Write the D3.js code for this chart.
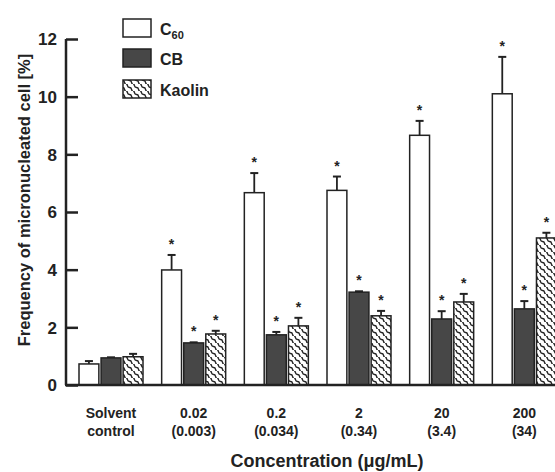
<!DOCTYPE html>
<html>
<head>
<meta charset="utf-8">
<script src="https://cdn.jsdelivr.net/npm/d3@7"></script>
<style>
  body { margin: 0; background: #fff; }
  svg text { font-family: "Liberation Sans", Arial, sans-serif; font-weight: bold; fill: #222; }
</style>
</head>
<body>
<div id="chart"></div>
<script>
// data
var groups = ['g1', 'g2', 'g3', 'g4', 'g5', 'g6'];
var groupLine1 = ['Solvent', '0.02', '0.2', '2', '20', '200'];
var groupLine2 = ['control', '(0.003)', '(0.034)', '(0.34)', '(3.4)', '(34)'];
var seriesNames = ['C60', 'CB', 'Kaolin'];
var c60Values = [0.73, 3.99, 6.67, 6.75, 8.66, 10.1];
var c60Err = [0.10, 0.52, 0.68, 0.48, 0.50, 1.28];
var cbValues = [0.94, 1.46, 1.74, 3.22, 2.29, 2.64];
var cbErr = [0.02, 0.02, 0.10, 0.03, 0.27, 0.27];
var kaolinValues = [0.98, 1.77, 2.05, 2.40, 2.88, 5.10];
var kaolinErr = [0.10, 0.11, 0.28, 0.17, 0.28, 0.18];
var c60Star = [false, true, true, true, true, true];
var cbStar = [false, true, true, true, true, true];
var kaolinStar = [false, true, true, true, true, true];
var yTicks = [0, 2, 4, 6, 8, 10, 12];

var w = 555, h = 472;
var plotLeft = 66, plotBottom = 385, plotTop = 39;

var svg = d3.select('#chart').append('svg')
  .attr('width', w).attr('height', h);

// patterns
var defs = svg.append('defs');
var hatch = defs.append('pattern')
  .attr('id', 'hatch')
  .attr('patternUnits', 'userSpaceOnUse')
  .attr('width', 7).attr('height', 7);
hatch.append('rect').attr('width', 7).attr('height', 7).attr('fill', '#fff');
hatch.append('path')
  .attr('d', 'M-1,-1 C3,0 0,3.5 3.5,3.5 C7,3.5 4,7 8,8')
  .attr('fill', 'none').attr('stroke', '#222').attr('stroke-width', 1.4);

var cbFill = '#474747';

var yScale = d3.scaleLinear().domain([0, 12]).range([plotBottom, plotTop]);

var x0 = d3.scaleBand().domain(groups).range([79, 575]).paddingInner(0).paddingOuter(0);
var x1 = d3.scaleBand().domain(seriesNames).range([0, 64]).paddingInner(0.1);

var series = [
  { name: 'C60', values: c60Values, err: c60Err, star: c60Star, fill: '#fff' },
  { name: 'CB', values: cbValues, err: cbErr, star: cbStar, fill: cbFill },
  { name: 'Kaolin', values: kaolinValues, err: kaolinErr, star: kaolinStar, fill: 'url(#hatch)' }
];

series.forEach(function(s) {
  var g = svg.append('g');
  groups.forEach(function(gr, i) {
    var bx = x0(gr) + x1(s.name);
    var bw = x1.bandwidth();
    var v = s.values[i];
    var e = s.err[i];
    var cx = bx + bw / 2;
    // error bar
    g.append('line')
      .attr('x1', cx).attr('x2', cx)
      .attr('y1', yScale(v)).attr('y2', yScale(v + e))
      .attr('stroke', '#222').attr('stroke-width', 1.8);
    g.append('line')
      .attr('x1', cx - 4).attr('x2', cx + 4)
      .attr('y1', yScale(v + e)).attr('y2', yScale(v + e))
      .attr('stroke', '#222').attr('stroke-width', 2);
    g.append('rect')
      .attr('x', bx).attr('y', yScale(v))
      .attr('width', bw).attr('height', yScale(0) - yScale(v))
      .attr('fill', s.fill)
      .attr('stroke', '#222').attr('stroke-width', 1.5);
    if (s.star[i]) {
      g.append('text')
        .attr('x', cx).attr('y', yScale(v + e) - 6)
        .attr('text-anchor', 'middle')
        .style('font-size', '14px')
        .text('*');
    }
  });
});

// axes
var yAxis = d3.axisLeft(yScale).tickValues(yTicks).tickSize(-12).tickPadding(9);
var gy = svg.append('g').attr('transform', 'translate(' + plotLeft + ',0)').call(yAxis);
gy.select('.domain').attr('stroke', '#222').attr('stroke-width', 2.5).attr('d', 'M0,' + plotTop + 'V' + plotBottom);
gy.selectAll('.tick line').attr('stroke', '#222').attr('stroke-width', 2.5);
gy.selectAll('.tick text')
  .style('font-size', '17px').style('font-family', '"Liberation Sans", Arial, sans-serif')
  .style('font-weight', 'bold').attr('fill', '#222').attr('dy', '0.35em');

svg.append('line')
  .attr('x1', plotLeft - 1).attr('x2', w)
  .attr('y1', plotBottom).attr('y2', plotBottom)
  .attr('stroke', '#222').attr('stroke-width', 2.5);

// category labels
groups.forEach(function(gr, i) {
  var cx = x0(gr) + 32;
  svg.append('text').attr('x', cx).attr('y', 418)
    .attr('text-anchor', 'middle').style('font-size', '14px').text(groupLine1[i]);
  svg.append('text').attr('x', cx).attr('y', 436)
    .attr('text-anchor', 'middle').style('font-size', '14px').text(groupLine2[i]);
});

svg.append('text')
  .attr('x', 327).attr('y', 467)
  .attr('text-anchor', 'middle')
  .style('font-size', '18px')
  .text('Concentration (\u03bcg/mL)');

svg.append('text')
  .attr('transform', 'translate(30,200) rotate(-90)')
  .attr('text-anchor', 'middle')
  .style('font-size', '16.5px')
  .text('Frequency of micronucleated cell [%]');

// legend
var legendY = [19, 49, 80];
var legendFill = ['#fff', cbFill, 'url(#hatch)'];
series.forEach(function(s, i) {
  svg.append('rect')
    .attr('x', 123).attr('y', legendY[i])
    .attr('width', 28).attr('height', 18)
    .attr('fill', legendFill[i])
    .attr('stroke', '#222').attr('stroke-width', 1.5);
  var t = svg.append('text')
    .attr('x', 160).attr('y', legendY[i] + 16)
    .style('font-size', '16px');
  if (s.name === 'C60') {
    t.append('tspan').text('C');
    t.append('tspan').attr('dy', 4).style('font-size', '11px').text('60');
  } else {
    t.text(s.name);
  }
});
</script>
</body>
</html>
